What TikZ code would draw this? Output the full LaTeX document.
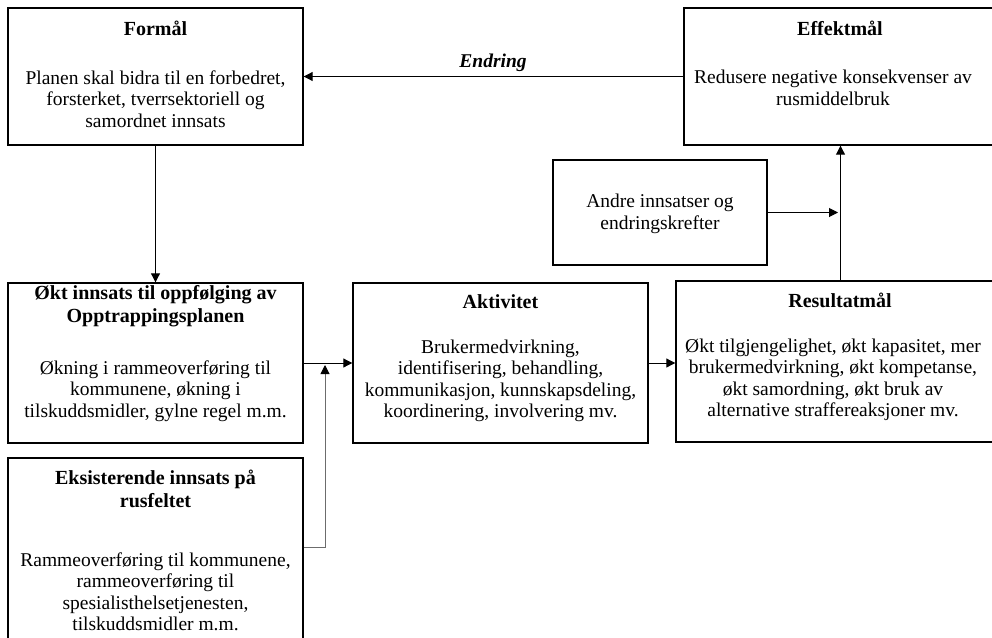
\documentclass[tikz,border=0pt]{standalone}
\usepackage{fontspec}
\setmainfont{Liberation Serif}
\usetikzlibrary{arrows.meta}
\begin{document}
\begin{tikzpicture}[x=1pt,y=-1pt,
 box/.style={draw=black, line width=1.4pt, rectangle, inner sep=0pt},
 txt/.style={align=center, font=\fontsize{19.5}{21.5}\selectfont, inner sep=0pt},
 ttl/.style={align=center, font=\fontsize{20}{22.5}\selectfont\bfseries, inner sep=0pt},
 arr/.style={-{Triangle[length=9pt,width=9pt,black]}, line width=1pt}]
\useasboundingbox (0,0) rectangle (992,637);
\clip (0,0) rectangle (992,637);
% boxes
\node[box, minimum width=295pt, minimum height=137pt] (formaal) at (155.5,76.5) {};
\node[box, minimum width=312pt, minimum height=137pt] (effekt) at (840,76.5) {};
\node[box, minimum width=214pt, minimum height=105pt] (andre) at (660,212.5) {};
\node[box, minimum width=295pt, minimum height=160pt] (okt) at (155.5,363) {};
\node[box, minimum width=295pt, minimum height=160pt] (aktiv) at (500.5,363) {};
\node[box, minimum width=329pt, minimum height=161pt] (result) at (840.5,361.5) {};
\node[box, minimum width=295pt, minimum height=242pt] (eksist) at (155.5,579) {};
% texts
\node[ttl] (formaalT) at (155.5,28) {Formål};
\node[txt] (formaalB) at (155.5,99) {Planen skal bidra til en forbedret,\\forsterket, tverrsektoriell og\\samordnet innsats};
\node[ttl] (effektT) at (840,28) {Effektmål};
\node[txt] (effektB) at (833,88) {Redusere negative konsekvenser av\\rusmiddelbruk};
\node[txt] (andreB) at (660,214) {Andre innsatser og\\endringskrefter};
\node[ttl] (oktT) at (155.5,306) {Økt innsats til oppfølging av\\Opptrappingsplanen};
\node[ttl, font=\fontsize{19.5}{22}\selectfont\bfseries\itshape] (endring) at (493,63) {Endring};
\node[txt] (oktB) at (155.5,391) {Økning i rammeoverføring til\\kommunene, økning i\\tilskuddsmidler, gylne regel m.m.};
\node[ttl] (aktivT) at (500.5,302) {Aktivitet};
\node[txt] (aktivB) at (500.5,381) {Brukermedvirkning,\\identifisering, behandling,\\kommunikasjon, kunnskapsdeling,\\koordinering, involvering mv.};
\node[ttl] (resultT) at (840,300) {Resultatmål};
\node[txt] (resultB) at (833,380) {Økt tilgjengelighet, økt kapasitet, mer\\brukermedvirkning, økt kompetanse,\\økt samordning, økt bruk av\\alternative straffereaksjoner mv.};
\node[ttl] (eksistT) at (155.5,489) {Eksisterende innsats på\\rusfeltet};
\node[txt] (eksistB) at (155.5,592) {Rammeoverføring til kommunene,\\rammeoverføring til\\spesialisthelsetjenesten,\\tilskuddsmidler m.m.};
% connectors
\coordinate (j1) at (838,212.5);
\coordinate (e1) at (303,547);
\coordinate (e2) at (325,365);
\draw[arr] (effekt.west) -- (formaal.east);
\draw[arr] (formaal.south) -- (okt.north);
\draw[arr] (andre.east) -- (j1);
\draw[arr] (result.north) -- (result.north |- effekt.south);
\draw[arr] (okt.east) -- (aktiv.west);
\draw[arr] (aktiv.east) -- (aktiv.east -| result.west);
\draw[arr, draw=gray!85!black] (eksist.east |- e1) -| (e2);
\end{tikzpicture}
\end{document}
